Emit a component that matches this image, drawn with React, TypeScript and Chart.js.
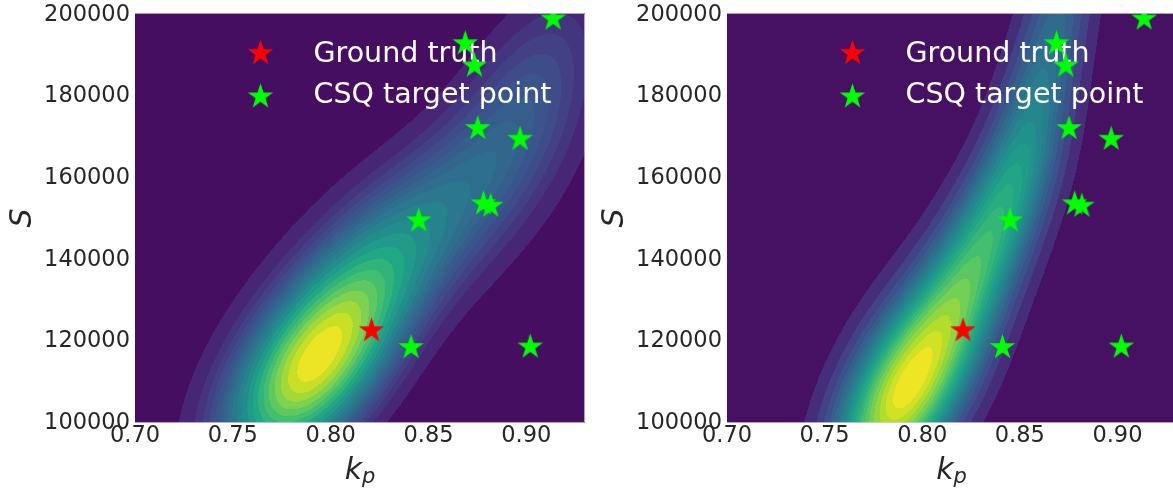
import React, { useEffect, useRef } from "react";
import { Chart, registerables } from "chart.js";

Chart.register(...registerables);

// ---------- axes ----------
const xMin = 0.7;
const xMax = 0.93;
const yMin = 100000;
const yMax = 200490;
const xTicks = [0.7, 0.75, 0.8, 0.85, 0.9];
const xTickLabels = ["0.70", "0.75", "0.80", "0.85", "0.90"];
const yTicks = [100000, 120000, 140000, 160000, 180000, 200000];
const yTickLabels = ["100000", "120000", "140000", "160000", "180000", "200000"];

// ---------- markers ----------
const legendLabels = ["Ground truth", "CSQ target point"];
const groundTruthKp = [0.8209];
const groundTruthS = [122640];
const targetKp = [0.9137, 0.8688, 0.8735, 0.8752, 0.8968, 0.8781, 0.8818, 0.845, 0.8411, 0.902];
const targetS = [199020, 192980, 187510, 172180, 169550, 153730, 153160, 149570, 118520, 118640];

// ---------- density estimate (read from picture as kernel blobs) ----------
// left panel
const leftCenterKp = [0.791, 0.83, 0.885, 0.91, 0.765];
const leftCenterS = [114000, 142000, 165000, 192000, 118000];
const leftSdKp = [0.0295, 0.03, 0.032, 0.024, 0.04];
const leftSdS = [16800, 16000, 20000, 16000, 28000];
const leftRho = [0.56, 0.5, 0.55, 0.45, 0.6];
const leftPeak = [1.0, 0.35, 0.3, 0.1, 0.05];

// right panel
const rightCenterKp = [0.778, 0.794, 0.821, 0.839, 0.853, 0.864, 0.873, 0.8];
const rightCenterS = [96000, 110500, 132000, 151000, 170000, 190000, 210000, 122000];
const rightSdKp = [0.022, 0.0254, 0.0219, 0.0219, 0.018, 0.017, 0.016, 0.03];
const rightSdS = [15000, 16850, 16960, 16960, 17600, 17600, 17600, 24000];
const rightRho = [0.5, 0.485, 0.591, 0.591, 0.561, 0.56, 0.56, 0.62];
const rightPeak = [0.3, 0.62, 0.3, 0.3, 0.22, 0.15, 0.18, 0.07];

const LEVELS = 22;

const FONT = "'DejaVu Sans', 'DejaVu Sans Book', sans-serif";
const TEXT_COLOR = "#262626";

const VIRIDIS: number[][] = [
  [68, 1, 84],
  [72, 36, 117],
  [65, 68, 135],
  [53, 95, 141],
  [42, 120, 142],
  [33, 145, 140],
  [34, 168, 132],
  [68, 191, 112],
  [122, 209, 81],
  [189, 223, 38],
  [253, 231, 37],
];

function viridis(t: number): number[] {
  const tt = Math.max(0, Math.min(1, t)) * (VIRIDIS.length - 1);
  const i = Math.min(VIRIDIS.length - 2, Math.floor(tt));
  const f = tt - i;
  const a = VIRIDIS[i];
  const b = VIRIDIS[i + 1];
  return [a[0] + (b[0] - a[0]) * f, a[1] + (b[1] - a[1]) * f, a[2] + (b[2] - a[2]) * f];
}

function makeStar(color: string, R: number): HTMLCanvasElement {
  const size = Math.ceil(2 * R) + 2;
  const c = document.createElement("canvas");
  c.width = size;
  c.height = size;
  const ctx = c.getContext("2d")!;
  const r = R * 0.381966;
  ctx.translate(size / 2, size / 2);
  ctx.beginPath();
  for (let k = 0; k < 10; k++) {
    const ang = -Math.PI / 2 + (k * Math.PI) / 5;
    const rad = k % 2 === 0 ? R : r;
    const px = rad * Math.cos(ang);
    const py = rad * Math.sin(ang);
    if (k === 0) ctx.moveTo(px, py);
    else ctx.lineTo(px, py);
  }
  ctx.closePath();
  ctx.fillStyle = color;
  ctx.fill();
  return c;
}

type Comps = {
  kp: number[];
  s: number[];
  sdKp: number[];
  sdS: number[];
  rho: number[];
  peak: number[];
};

function fieldPlugin(comps: Comps) {
  return {
    id: "kdeField",
    beforeDatasetsDraw(chart: any) {
      const area = chart.chartArea;
      const xs = chart.scales.x;
      const ys = chart.scales.y;
      const L = Math.round(area.left);
      const T = Math.round(area.top);
      const w = Math.round(area.right) - L;
      const h = Math.round(area.bottom) - T;
      const kp = new Float64Array(w);
      const sv = new Float64Array(h);
      for (let i = 0; i < w; i++) kp[i] = xs.getValueForPixel(L + i + 0.5);
      for (let j = 0; j < h; j++) sv[j] = ys.getValueForPixel(T + j + 0.5);
      const d = new Float64Array(w * h);
      for (let c = 0; c < comps.kp.length; c++) {
        const rho = comps.rho[c];
        const inv = 1 / (1 - rho * rho);
        const cx = comps.kp[c];
        const cy = comps.s[c];
        const sx = comps.sdKp[c];
        const sy = comps.sdS[c];
        const pk = comps.peak[c];
        for (let j = 0; j < h; j++) {
          const v = (sv[j] - cy) / sy;
          const row = j * w;
          for (let i = 0; i < w; i++) {
            const u = (kp[i] - cx) / sx;
            d[row + i] += pk * Math.exp(-0.5 * inv * (u * u - 2 * rho * u * v + v * v));
          }
        }
      }
      // iso-proportion levels (mass quantiles)
      const sorted = Float64Array.from(d).sort().reverse();
      const n = sorted.length;
      const cum = new Float64Array(n);
      let acc = 0;
      for (let i = 0; i < n; i++) {
        acc += sorted[i];
        cum[i] = acc;
      }
      for (let i = 0; i < n; i++) cum[i] /= acc;
      const levels: number[] = [];
      for (let k = 0; k < LEVELS; k++) {
        const q = k / (LEVELS - 1);
        const target = 1 - q;
        let lo = 0;
        let hi = n;
        while (lo < hi) {
          const mid = (lo + hi) >> 1;
          if (cum[mid] < target) lo = mid + 1;
          else hi = mid;
        }
        levels.push(sorted[Math.min(lo, n - 1)]);
      }
      const vmin = levels[0];
      const vmax = levels[LEVELS - 1];
      const bandColors: number[][] = [];
      for (let k = 0; k < LEVELS - 1; k++) {
        const mid = (levels[k] + levels[k + 1]) / 2;
        bandColors.push(viridis((mid - vmin) / (vmax - vmin)));
      }
      const off = document.createElement("canvas");
      off.width = w;
      off.height = h;
      const octx = off.getContext("2d")!;
      const img = octx.createImageData(w, h);
      const data = img.data;
      for (let p = 0; p < w * h; p++) {
        const v = d[p];
        let lo = 0;
        let hi = LEVELS - 2;
        while (lo < hi) {
          const mid = (lo + hi + 1) >> 1;
          if (levels[mid] < v) lo = mid;
          else hi = mid - 1;
        }
        const col = bandColors[lo];
        data[p * 4] = col[0];
        data[p * 4 + 1] = col[1];
        data[p * 4 + 2] = col[2];
        data[p * 4 + 3] = 255;
      }
      octx.putImageData(img, 0, 0);
      const ctx = chart.ctx;
      ctx.save();
      ctx.drawImage(off, L, T);
      // legend
      const dsets = chart.data.datasets;
      ctx.font = `28.5px ${FONT}`;
      ctx.fillStyle = "#ffffff";
      ctx.textAlign = "left";
      ctx.textBaseline = "alphabetic";
      for (let i = 0; i < dsets.length; i++) {
        const st = dsets[i].pointStyle as HTMLCanvasElement;
        const mx = area.left + 125.5;
        const my = area.top + 40.5 + i * 43.3;
        ctx.drawImage(st, mx - st.width / 2, my - st.height / 2);
        ctx.fillText(dsets[i].label, area.left + 178.5, area.top + 49.3 + i * 41);
      }
      ctx.restore();
    },
    afterDatasetsDraw(chart: any) {
      const a = chart.chartArea;
      const ctx = chart.ctx;
      ctx.save();
      ctx.strokeStyle = "rgba(215,205,230,0.75)";
      ctx.lineWidth = 1;
      ctx.beginPath();
      ctx.moveTo(a.left, a.top + 0.5);
      ctx.lineTo(a.right - 0.5, a.top + 0.5);
      ctx.lineTo(a.right - 0.5, a.bottom - 0.5);
      ctx.lineTo(a.left, a.bottom - 0.5);
      ctx.stroke();
      ctx.restore();
    },
  };
}

type PanelProps = {
  pageLeft: number;
  canvasWidth: number;
  areaLeft: number;
  rightPad: number;
  comps: Comps;
};

function Panel({ pageLeft, canvasWidth, areaLeft, rightPad, comps }: PanelProps) {
  const ref = useRef<HTMLCanvasElement | null>(null);
  useEffect(() => {
    if (!ref.current) return;
    const red = makeStar("#ff0000", 13.4);
    const green = makeStar("#00ff00", 13.4);
    const chart = new Chart(ref.current, {
      type: "scatter",
      data: {
        datasets: [
          {
            label: legendLabels[0],
            data: groundTruthKp.map((x, i) => ({ x, y: groundTruthS[i] })),
            pointStyle: red as any,
            pointRadius: 13,
            showLine: false,
          },
          {
            label: legendLabels[1],
            data: targetKp.map((x, i) => ({ x, y: targetS[i] })),
            pointStyle: green as any,
            pointRadius: 13,
            showLine: false,
          },
        ],
      },
      options: {
        animation: false,
        responsive: false,
        devicePixelRatio: 1,
        events: [],
        layout: { autoPadding: false, padding: { left: 0, right: rightPad, top: 13, bottom: 0 } },
        plugins: { legend: { display: false }, tooltip: { enabled: false } },
        scales: {
          x: {
            type: "linear",
            min: xMin,
            max: xMax,
            grid: { display: false, drawTicks: false },
            border: { display: false },
            ticks: {
              color: TEXT_COLOR,
              font: { family: FONT, size: 22.5, lineHeight: 1.2 },
              padding: 0,
              autoSkip: false,
              maxRotation: 0,
              callback: (_v: any, i: number) => xTickLabels[i],
            },
            afterBuildTicks: (s: any) => {
              s.ticks = xTicks.map((v) => ({ value: v }));
            },
            afterFit: (s: any) => {
              s.height = 68;
              s.paddingLeft = 0;
              s.paddingRight = 0;
            },
          },
          y: {
            type: "linear",
            min: yMin,
            max: yMax,
            grid: { display: false, drawTicks: false },
            border: { display: false },
            ticks: {
              color: TEXT_COLOR,
              font: { family: FONT, size: 22.5, lineHeight: 1.2 },
              padding: 5,
              autoSkip: false,
              callback: (_v: any, i: number) => yTickLabels[i],
            },
            afterBuildTicks: (s: any) => {
              s.ticks = yTicks.map((v) => ({ value: v }));
            },
            afterFit: (s: any) => {
              s.width = areaLeft;
              s.paddingTop = 0;
              s.paddingBottom = 0;
            },
          },
        },
      } as any,
      plugins: [fieldPlugin(comps) as any],
    });
    return () => chart.destroy();
  }, []);

  const plotLeft = pageLeft + areaLeft;
  const plotRight = pageLeft + canvasWidth - rightPad;
  const cx = (plotLeft + plotRight) / 2;
  return (
    <>
      <canvas
        ref={ref}
        width={canvasWidth}
        height={491}
        style={{ position: "absolute", left: pageLeft, top: 0, width: canvasWidth, height: 491 }}
      />
      <div
        style={{
          position: "absolute",
          left: cx - 60,
          top: 453.6,
          width: 120,
          textAlign: "center",
          fontFamily: FONT,
          fontStyle: "italic",
          fontSize: 30,
          lineHeight: "30px",
          color: TEXT_COLOR,
          whiteSpace: "nowrap",
        }}
      >
        k<span style={{ fontSize: 21, position: "relative", top: 4 }}>p</span>
      </div>
      <div
        style={{
          position: "absolute",
          left: plotLeft - 114 - 50,
          top: 218 - 15,
          width: 100,
          height: 30,
          textAlign: "center",
          fontFamily: FONT,
          fontStyle: "italic",
          fontSize: 30,
          lineHeight: "30px",
          color: TEXT_COLOR,
          transform: "rotate(-90deg)",
          whiteSpace: "nowrap",
        }}
      >
        S
      </div>
    </>
  );
}

export default function App() {
  const leftComps: Comps = {
    kp: leftCenterKp,
    s: leftCenterS,
    sdKp: leftSdKp,
    sdS: leftSdS,
    rho: leftRho,
    peak: leftPeak,
  };
  const rightComps: Comps = {
    kp: rightCenterKp,
    s: rightCenterS,
    sdKp: rightSdKp,
    sdS: rightSdS,
    rho: rightRho,
    peak: rightPeak,
  };
  return (
    <div
      style={{
        position: "fixed",
        left: 0,
        top: 0,
        width: 1173,
        height: 491,
        overflow: "hidden",
        background: "#ffffff",
      }}
    >
      <Panel pageLeft={0} canvasWidth={590} areaLeft={135} rightPad={5} comps={leftComps} />
      <Panel pageLeft={590} canvasWidth={590} areaLeft={137} rightPad={4} comps={rightComps} />
    </div>
  );
}
